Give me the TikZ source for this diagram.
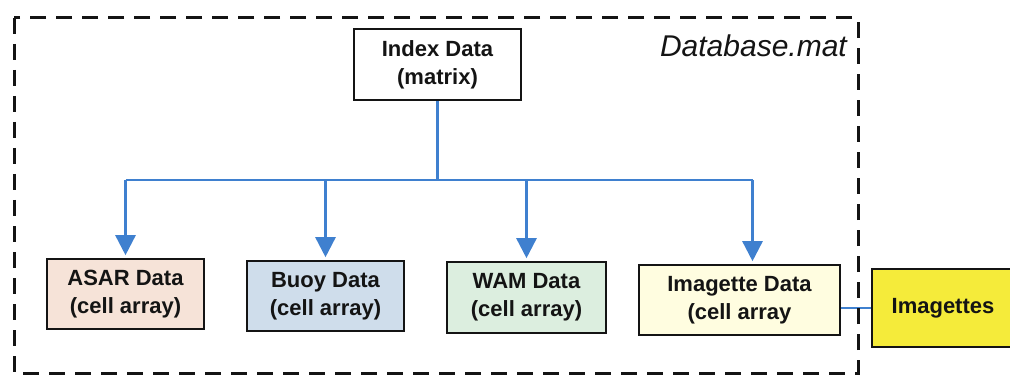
\documentclass[tikz,border=0pt]{standalone}
\usepackage{fontspec}
\setmainfont{Liberation Sans}
\usetikzlibrary{positioning,arrows.meta,calc}
\definecolor{link600} {HTML}{3F80CF}
\definecolor{asar100} {HTML}{F6E3D8}
\definecolor{buoy100} {HTML}{CFDDEB}
\definecolor{wam100}  {HTML}{DCEEDF}
\definecolor{img100}  {HTML}{FFFDE0}
\definecolor{img400}  {HTML}{F5EB3A}
\definecolor{ink900}  {HTML}{141414}
\tikzset{
  dbox/.style  ={draw=ink900, line width=1.6pt, align=center, inner sep=3pt,
                 font=\fontsize{22}{28}\selectfont\bfseries, text=ink900},
  frame/.style ={draw=ink900, line width=3pt, dash pattern=on 16pt off 10pt},
  ar/.style    ={-{Triangle[length=20pt,width=20pt]}, draw=link600,
                 line width=2.6pt, shorten >=3pt},
  ln/.style    ={draw=link600, line width=2.6pt},
  tag/.style   ={font=\fontsize{30}{34}\selectfont\itshape, text=ink900,
                 inner sep=0pt}
}
\begin{document}
\begin{tikzpicture}[x=1pt,y=-1pt]
\useasboundingbox (0,0) rectangle (1010,377);
% boxes
\node[dbox, fill=white, minimum width=167pt, minimum height=71pt]
  (idx) at (437.5,64.5) {Index Data\\(matrix)};
\node[dbox, fill=asar100, minimum width=157pt, minimum height=70pt]
  (asar) at (125.5,294) {ASAR Data\\(cell array)};
\node[dbox, fill=buoy100, minimum width=157pt, minimum height=70pt]
  (buoy) at (325.5,296) {Buoy Data\\(cell array)};
\node[dbox, fill=wam100, minimum width=159pt, minimum height=71pt]
  (wam) at (526.5,297.5) {WAM Data\\(cell array)};
\node[dbox, fill=img100, minimum width=201pt, minimum height=70pt]
  (imgd) at (739.5,300) {Imagette Data\\(cell array};
\node[dbox, fill=img400, minimum width=142pt, minimum height=78pt]
  (imgs) at (943,308) {Imagettes};
\coordinate (bus) at (437,180);
\coordinate (imgdrop) at ([xshift=13pt]imgd.north);

% tree
\draw[ln] (idx.south) -- (idx.south |- bus);
\draw[ln] (asar.north |- bus) -- (imgdrop |- bus);
\draw[ar] (asar.north |- bus) -- (asar.north);
\draw[ar] (buoy.north |- bus) -- (buoy.north);
\draw[ar] (wam.north |- bus)  -- (wam.north);
\draw[ar] (imgdrop |- bus)    -- (imgdrop);
\draw[ln] (imgs.west) -- (imgs.west -| imgd.east);

% file frame
\draw[frame] (14,18) rectangle (858,373);
\node[tag, anchor=base east] (dbname) at (847,57) {Database.mat};
\end{tikzpicture}
\end{document}
